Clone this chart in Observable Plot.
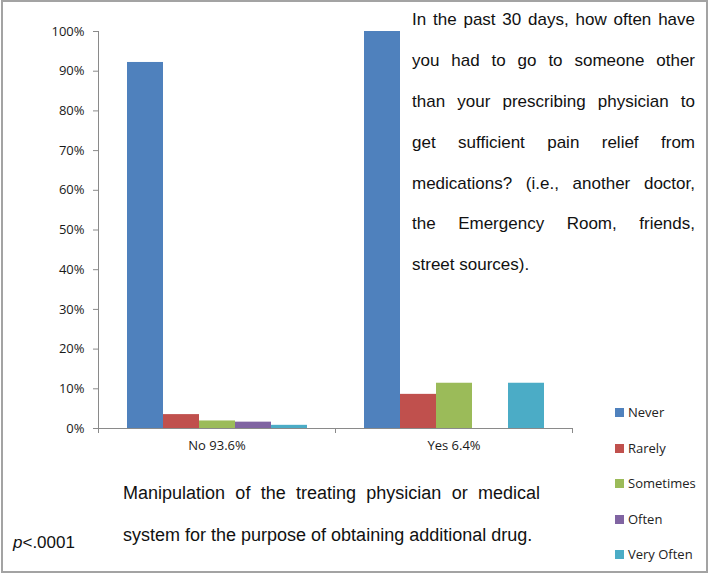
<!DOCTYPE html>
<html>
<head>
<meta charset="utf-8">
<script src="https://cdn.jsdelivr.net/npm/d3@7"></script>
<script src="https://cdn.jsdelivr.net/npm/@observablehq/plot@0.6"></script>
<style>
  body { margin: 0; background: #fff; }
  #wrap { position: relative; width: 709px; height: 575px; overflow: hidden; background: #fff; }
  #wrap svg { position: absolute; left: 0; top: 0; }
  .frame { position: absolute; left: 1px; top: 0px; width: 707px; height: 573px; box-sizing: border-box; border: 2px solid #a3a3a3; pointer-events: none; }
  .txt { position: absolute; font-family: "Liberation Sans", Arial, sans-serif; font-size: 17px; color: #111; white-space: nowrap; }
  .jline { text-align: justify; text-align-last: justify; white-space: normal; }
  .leg { position: absolute; font-family: "Open Sans", sans-serif; font-size: 13px; color: #222; line-height: 16px; white-space: nowrap; }
  .leg span.sw { display: inline-block; width: 9px; height: 9px; margin-right: 4px; vertical-align: 0px; }
</style>
</head>
<body>
<div id="wrap"></div>
<script>
// ---- data ----
const groups = ["No 93.6%", "Yes 6.4%"];
const series = ["Never", "Rarely", "Sometimes", "Often", "Very Often"];
const noValues = [92.2, 3.5, 1.9, 1.6, 0.8];
const yesValues = [100, 8.6, 11.4, 0, 11.4];
const colors = ["#4F81BD", "#C0504D", "#9BBB59", "#8064A2", "#4BACC6"];
const yTicks = [0, 10, 20, 30, 40, 50, 60, 70, 80, 90, 100];
const questionLines = [
  "In the past 30 days, how often have",
  "you had to go to someone other",
  "than your prescribing physician to",
  "get sufficient pain relief from",
  "medications? (i.e., another doctor,",
  "the Emergency Room, friends,",
  "street sources)."
];
const captionLines = [
  "Manipulation of the treating physician or medical",
  "system for the purpose of obtaining additional drug."
];
const pLetter = "p";
const pRest = "<.0001";

const groupValues = [noValues, yesValues];
const data = groups.flatMap((g, i) => series.map((s, j) => ({group: g, series: s, value: groupValues[i][j]})));

const plot = Plot.plot({
  width: 709,
  height: 575,
  marginLeft: 97,
  marginRight: 137,
  marginTop: 31,
  marginBottom: 147,
  style: {fontFamily: "'Open Sans', sans-serif", fontSize: "13px", color: "#1a1a1a", background: "transparent"},
  fx: {domain: groups, padding: 0, label: null},
  x: {domain: series, paddingInner: 0, paddingOuter: 0.755, axis: null},
  y: {domain: [0, 100], label: null},
  color: {domain: series, range: colors},
  marks: [
    Plot.barY(data, {fx: "group", x: "series", y: "value", fill: "series"}),
    Plot.ruleY([0], {stroke: "#8a8a8a", strokeWidth: 1}),
    Plot.axisY({ticks: yTicks, tickFormat: d => d + "%", tickSize: 5, tickPadding: 9, stroke: "#8a8a8a", label: null, fontSize: 13}),
    Plot.axisFx({anchor: "bottom", tickSize: 0, tickPadding: 12, label: null, fontSize: 13})
  ]
});

const wrap = document.getElementById("wrap");
wrap.appendChild(plot);

// axis line and category boundary ticks, positioned through Plot's scales
const fx = plot.scale("fx");
const ys = plot.scale("y");
const svg = d3.select(plot);
const left = fx.apply(groups[0]);
const edges = groups.map(g => fx.apply(g)).concat([fx.apply(groups[groups.length - 1]) + fx.bandwidth]);
const y0 = ys.apply(0), y1 = ys.apply(100);
const g = svg.append("g").attr("stroke", "#8a8a8a").attr("stroke-width", 1);
g.append("line").attr("x1", left + 0.5).attr("x2", left + 0.5).attr("y1", y1).attr("y2", y0);
edges.forEach(e => {
  g.append("line").attr("x1", e + 0.5).attr("x2", e + 0.5).attr("y1", y0).attr("y2", y0 + 5);
});

// legend
const color = plot.scale("color");
const legTops = [412, 447.5, 483, 518.5, 554];
series.forEach((s, i) => {
  const d = document.createElement("div");
  d.className = "leg";
  d.style.left = "615px";
  d.style.top = (legTops[i] - 8) + "px";
  const sw = document.createElement("span");
  sw.className = "sw";
  sw.style.background = color.apply(s);
  d.appendChild(sw);
  d.appendChild(document.createTextNode(s));
  wrap.appendChild(d);
});

// question text (justified lines)
questionLines.forEach((line, i) => {
  const d = document.createElement("div");
  d.className = "txt" + (i < questionLines.length - 1 ? " jline" : "");
  d.style.left = "412px";
  d.style.width = "283px";
  d.style.top = (20.4 + i * 40.8 - 10) + "px";
  d.style.lineHeight = "20px";
  d.textContent = line;
  wrap.appendChild(d);
});

// caption text
captionLines.forEach((line, i) => {
  const d = document.createElement("div");
  d.className = "txt" + (i < captionLines.length - 1 ? " jline" : "");
  d.style.left = "123px";
  d.style.width = "417px";
  d.style.fontSize = "18px";
  d.style.top = (492.7 + i * 42.3 - 10) + "px";
  d.style.lineHeight = "20px";
  d.textContent = line;
  wrap.appendChild(d);
});

// p value
const p = document.createElement("div");
p.className = "txt";
p.style.left = "13px";
p.style.top = (543 - 10) + "px";
p.style.lineHeight = "20px";
const it = document.createElement("i");
it.textContent = pLetter;
p.appendChild(it);
p.appendChild(document.createTextNode(pRest));
wrap.appendChild(p);

const fr = document.createElement("div");
fr.className = "frame";
wrap.appendChild(fr);
</script>
</body>
</html>
